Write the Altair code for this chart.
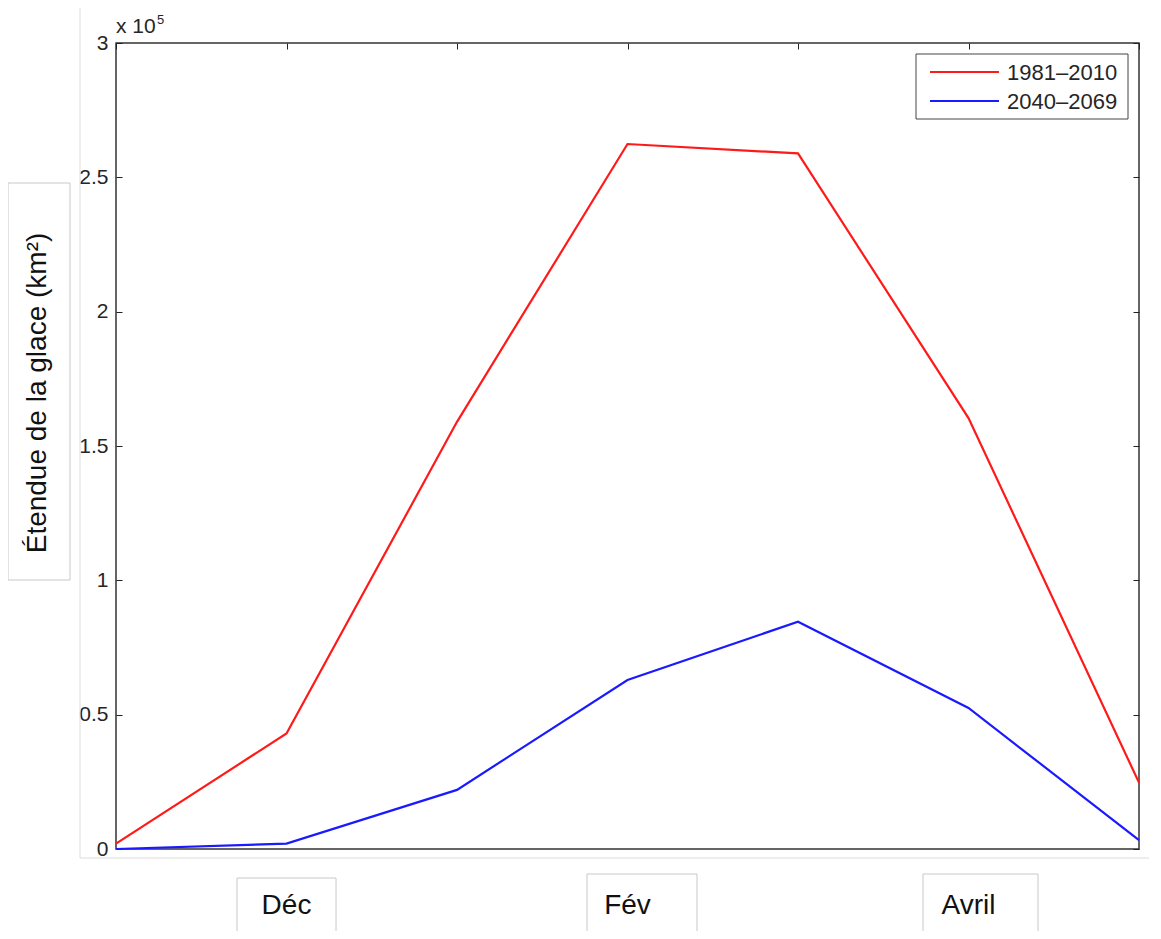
import altair as alt
import pandas as pd

# ---- data (values in units of 10^5 km²) ----
months = ["Nov", "Déc", "Jan", "Fév", "Mars", "Avril", "Mai"]
month_idx = [0, 1, 2, 3, 4, 5, 6]
red_vals = [0.02, 0.43, 1.59, 2.624, 2.589, 1.604, 0.247]
blue_vals = [0.0, 0.02, 0.22, 0.629, 0.846, 0.525, 0.033]
series = ["1981–2010", "2040–2069"]
colors = ["#ff1a1a", "#1a1aff"]
y_ticks = [0, 0.5, 1, 1.5, 2, 2.5, 3]
x_label_idx = [1, 3, 5]
x_label_text = ["Déc", "Fév", "Avril"]
y_title = "Étendue de la glace (km²)"

FONT = "Liberation Sans"
W, H = 1023, 806

rows = []
for s, vals in zip(series, [red_vals, blue_vals]):
    for m, i, v in zip(months, month_idx, vals):
        rows.append({"series": s, "month": m, "idx": i, "value": v})
df = pd.DataFrame(rows)
one = pd.DataFrame({"k": [0]})

xscale = alt.Scale(domain=[0, 6], nice=False, zero=False)
yscale = alt.Scale(domain=[0, 3], nice=False, zero=False)

lines = alt.Chart(df).mark_line(strokeWidth=2.2).encode(
    x=alt.X("idx:Q", scale=xscale,
            axis=alt.Axis(orient="bottom", offset=-6, tickSize=6, domain=False,
                          labels=False, values=month_idx, grid=False, title=None,
                          tickColor="#222", tickWidth=1)),
    y=alt.Y("value:Q", scale=yscale,
            axis=alt.Axis(orient="left", offset=-6, tickSize=6, domain=False,
                          values=y_ticks, labelExpr="datum.value", grid=False,
                          title=None, labelPadding=8, labelFontSize=21,
                          labelFont=FONT, labelColor="#262626",
                          tickColor="#222", tickWidth=1)),
    color=alt.Color("series:N", scale=alt.Scale(domain=series, range=colors),
                    legend=None),
    detail="series:N",
)

# x labels in boxes below the axis
xlab_df = pd.DataFrame({"idx": x_label_idx, "label": x_label_text})
xlab = alt.Chart(xlab_df).mark_text(font=FONT, fontSize=28, color="#111",
                                    baseline="alphabetic", align="center").encode(
    x=alt.X("idx:Q", scale=xscale, axis=None),
    y=alt.value(871),
    text="label:N",
)

def box(x1, x2, y1, y2, stroke="#c8c8c8"):
    return alt.Chart(one).mark_rect(fill="white", stroke=stroke, strokeWidth=1).encode(
        x=alt.value(x1), x2=alt.value(x2), y=alt.value(y1), y2=alt.value(y2))

boxes = [
    box(121, 220, 835, 900),
    box(471, 581, 831, 900),
    box(807, 922, 831, 895),
    box(-108, -46, 140, 537),
]

# faint image-border lines
edge_v = alt.Chart(one).mark_rule(color="#dcdcdc", strokeWidth=1).encode(
    x=alt.value(-36), y=alt.value(-43), y2=alt.value(815))
edge_h = alt.Chart(one).mark_rule(color="#dcdcdc", strokeWidth=1).encode(
    x=alt.value(-36), x2=alt.value(1040), y=alt.value(815))

ytitle = alt.Chart(one).mark_text(text=y_title, font=FONT, fontSize=28,
                                  color="#111", angle=270, align="center",
                                  baseline="middle").encode(
    x=alt.value(-78), y=alt.value(350))

exp_main = alt.Chart(one).mark_text(text="x 10", font=FONT, fontSize=21,
                                    color="#262626", align="left",
                                    baseline="alphabetic").encode(
    x=alt.value(0), y=alt.value(-10))
exp_sup = alt.Chart(one).mark_text(text="5", font=FONT, fontSize=13,
                                   color="#262626", align="left",
                                   baseline="alphabetic").encode(
    x=alt.value(41), y=alt.value(-19))

# legend (manual)
leg_layers = [box(800, 1012, 11, 76, stroke="#444")]
for k, (s, c) in enumerate(zip(series, colors)):
    yy = 29 + 29 * k
    leg_layers.append(alt.Chart(one).mark_rule(color=c, strokeWidth=2).encode(
        x=alt.value(814), x2=alt.value(883), y=alt.value(yy)))
    leg_layers.append(alt.Chart(one).mark_text(text=s, font=FONT, fontSize=22,
                                               color="#262626", align="left",
                                               baseline="middle").encode(
        x=alt.value(891), y=alt.value(yy + 1)))

main = alt.layer(edge_v, edge_h, *boxes, lines, xlab, ytitle, exp_main, exp_sup,
                 *leg_layers)

# top / right ticks
tr = alt.Chart(df).mark_point(opacity=0).encode(
    x=alt.X("idx:Q", scale=xscale,
            axis=alt.Axis(orient="top", offset=-6, tickSize=6, domain=False,
                          labels=False, values=month_idx, grid=False, title=None,
                          tickColor="#222", tickWidth=1)),
    y=alt.Y("value:Q", scale=yscale,
            axis=alt.Axis(orient="right", offset=-6, tickSize=6, domain=False,
                          labels=False, values=y_ticks, grid=False, title=None,
                          tickColor="#222", tickWidth=1)),
)

chart = alt.layer(main, tr).resolve_scale(x="independent", y="independent").properties(
    width=W, height=H,
    background="white",
    autosize=alt.AutoSizeParams(type="none"),
    padding={"left": 108, "top": 35, "right": 10, "bottom": 82},
).configure_view(stroke="#333", strokeWidth=1.5)

chart.save("out.html", embed_options={"renderer": "svg", "actions": False})
